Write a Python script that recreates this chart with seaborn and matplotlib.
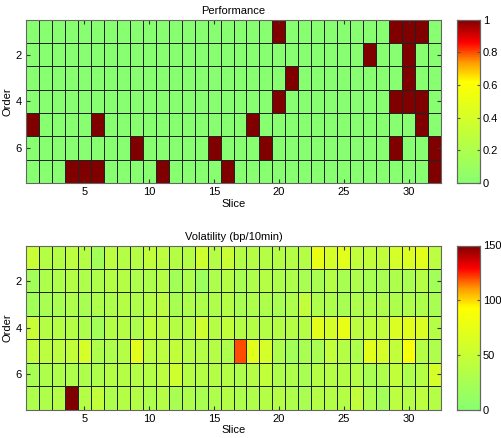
import matplotlib
matplotlib.use("Agg")
import matplotlib.pyplot as plt
import seaborn as sns
import numpy as np
from matplotlib.colors import LinearSegmentedColormap

slices = list(range(1, 33))
orders = list(range(1, 8))

# order rows 1..7, slice columns 1..32
performance = [
    [0,0,0,0,0,0,0,0,0,0,0,0,0,0,0,0,0,0,0,1,0,0,0,0,0,0,0,0,1,1,1,0],
    [0,0,0,0,0,0,0,0,0,0,0,0,0,0,0,0,0,0,0,0,0,0,0,0,0,0,1,0,0,1,0,0],
    [0,0,0,0,0,0,0,0,0,0,0,0,0,0,0,0,0,0,0,0,1,0,0,0,0,0,0,0,0,1,0,0],
    [0,0,0,0,0,0,0,0,0,0,0,0,0,0,0,0,0,0,0,1,0,0,0,0,0,0,0,0,1,1,1,0],
    [1,0,0,0,0,1,0,0,0,0,0,0,0,0,0,0,0,1,0,0,0,0,0,0,0,0,0,0,0,0,1,0],
    [0,0,0,0,0,0,0,0,1,0,0,0,0,0,1,0,0,0,1,0,0,0,0,0,0,0,0,0,1,0,0,1],
    [0,0,0,1,1,1,0,0,0,0,1,0,0,0,0,1,0,0,0,0,0,0,0,0,0,0,0,0,0,0,0,1],
]

volatility = [
    [50,35,35,40,35,20,40,35, 35,45,40,35,35,55,35,50, 35,35,35,35,35,35,75,60, 70,45,45,45,60,65,70,40],
    [20,30,30,35,30,30,35,35, 30,30,35,20,30,15,30,35, 25,30,35,30,30,25,25,35, 25,30,25,25,30,25,35,20],
    [20,25,25,30,25,30,30,35, 30,35,40,25,30,30,30,35, 25,30,30,25,30,45,30,30, 25,30,30,30,30,30,30,25],
    [50,35,35,35,30,20,35,35, 30,45,40,35,35,55,35,45, 35,35,35,35,35,35,70,60, 75,40,45,45,65,70,65,35],
    [45,40,40,45,60,30,30,35, 70,40,40,45,35,35,35,30, 120,70,60,30,20,25,25,45, 35,30,70,60,45,85,35,30],
    [25,30,30,30,30,30,35,35, 35,35,40,55,35,35,35,35, 30,35,45,30,30,25,35,35, 35,35,25,30,45,30,35,60],
    [30,30,35,150,35,45,30,35, 35,30,35,25,30,25,30,35, 30,30,35,35,30,25,35,35, 35,45,30,20,40,35,40,35],
]

cmap = LinearSegmentedColormap.from_list(
    "gyr", [(0, "#88ff70"), (0.62, "#ffff00"), (0.74, "#ff9900"),
            (0.86, "#ff0000"), (1, "#800000")])

plt.rcParams['font.family'] = ['Liberation Sans', 'DejaVu Sans']
plt.rcParams['font.size'] = 8

fig = plt.figure(figsize=(5.01, 4.38), dpi=100)
W, H = 501, 438


def box(x0, y0, x1, y1):
    return [x0 / W, 1 - y1 / H, (x1 - x0) / W, (y1 - y0) / H]


def draw(ax, cax, data, vmax, title, cticks):
    sns.heatmap(np.array(data), ax=ax, cbar_ax=cax, cmap=cmap, vmin=0, vmax=vmax,
                linewidths=0.7, linecolor="#222222", xticklabels=False, yticklabels=False)
    ax.set_xticks([s - 0.5 for s in slices if s % 5 == 0])
    ax.set_xticklabels([s for s in slices if s % 5 == 0], rotation=0)
    ax.set_yticks([o - 0.5 for o in orders if o % 2 == 0])
    ax.set_yticklabels([o for o in orders if o % 2 == 0], rotation=0)
    ax.tick_params(direction="in", length=3, top=True, right=True, color="#333333", pad=3)
    for sp in ax.spines.values():
        sp.set_visible(True)
        sp.set_color("#666666")
        sp.set_linewidth(0.8)
    ax.set_title(title, fontsize=8, pad=4)
    ax.set_xlabel("Slice", fontsize=8, labelpad=1)
    ax.set_ylabel("Order", fontsize=8, labelpad=2)
    cax.set_yticks(cticks)
    cax.set_yticklabels([f"{t:g}" for t in cticks])
    cax.tick_params(direction="in", length=2, left=True, right=True, color="#555555", pad=2)
    for sp in cax.spines.values():
        sp.set_visible(True)
        sp.set_color("#666666")
        sp.set_linewidth(0.8)


ax1 = fig.add_axes(box(26, 19.5, 441, 183))
cax1 = fig.add_axes(box(457, 19.5, 480, 183))
ax2 = fig.add_axes(box(26, 245.5, 441, 409.5))
cax2 = fig.add_axes(box(457, 245.5, 480, 409.5))

draw(ax1, cax1, performance, 1, "Performance", [0, 0.2, 0.4, 0.6, 0.8, 1])
draw(ax2, cax2, volatility, 150, "Volatility (bp/10min)", [0, 50, 100, 150])

fig.savefig("out.png", dpi=100)
